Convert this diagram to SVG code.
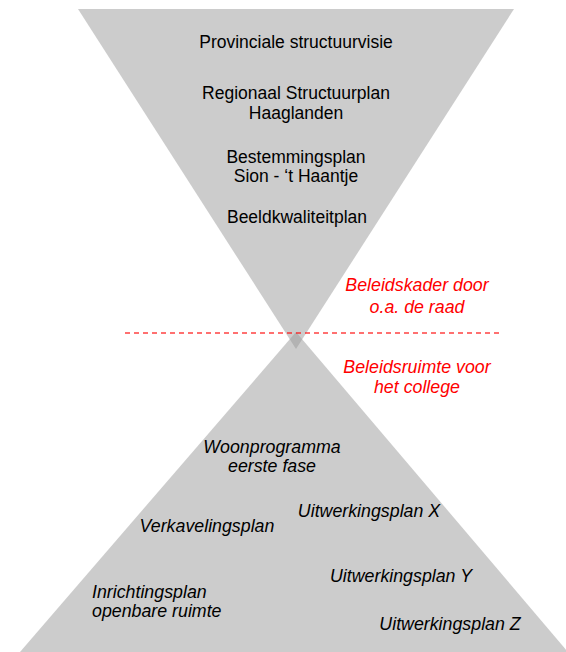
<svg xmlns="http://www.w3.org/2000/svg" width="566" height="652" viewBox="0 0 566 652">
<style>
.tri{fill:#999999;fill-opacity:0.5;stroke:none}
.t{font-family:"Liberation Sans",Arial,sans-serif;font-size:17.5px;fill:#000;text-anchor:middle}
.i{font-style:italic;font-size:17.8px}
.r{fill:#ff0000}
.dash{stroke:#ff0000;stroke-opacity:0.75;stroke-width:1.3;stroke-dasharray:5 4;fill:none}
</style>
<rect width="566" height="652" fill="#ffffff"/>
<g id="top-funnel">
<polygon class="tri" points="78,9 514,9 296,349"/>
</g>
<g id="bottom-funnel">
<polygon class="tri" points="296,332 568,652 20,652"/>
</g>
<g id="connectors">
<line class="dash" x1="125" y1="333" x2="500" y2="333"/>
</g>
<g id="provinciale"><text class="t" x="296" y="48">Provinciale structuurvisie</text></g>
<g id="regionaal"><text class="t" x="296" y="99">Regionaal Structuurplan</text><text class="t" x="296" y="118.5">Haaglanden</text></g>
<g id="bestemmingsplan"><text class="t" x="296" y="163">Bestemmingsplan</text><text class="t" x="296" y="182">Sion - ‘t Haantje</text></g>
<g id="beeldkwaliteitplan"><text class="t" x="297" y="223">Beeldkwaliteitplan</text></g>
<g id="beleidskader"><text class="t i r" x="417" y="291">Beleidskader door</text><text class="t i r" x="417" y="313">o.a. de raad</text></g>
<g id="beleidsruimte"><text class="t i r" x="417" y="373">Beleidsruimte voor</text><text class="t i r" x="417" y="393">het college</text></g>
<g id="woonprogramma"><text class="t i" x="272" y="453">Woonprogramma</text><text class="t i" x="272" y="472">eerste fase</text></g>
<g id="uitwerkingsplan-x"><text class="t i" x="369" y="517">Uitwerkingsplan X</text></g>
<g id="verkavelingsplan"><text class="t i" x="207" y="532">Verkavelingsplan</text></g>
<g id="uitwerkingsplan-y"><text class="t i" x="401" y="582">Uitwerkingsplan Y</text></g>
<g id="inrichtingsplan"><text class="t i" x="92" y="598" style="text-anchor:start">Inrichtingsplan</text><text class="t i" x="92" y="617" style="text-anchor:start">openbare ruimte</text></g>
<g id="uitwerkingsplan-z"><text class="t i" x="450" y="630">Uitwerkingsplan Z</text></g>
</svg>
